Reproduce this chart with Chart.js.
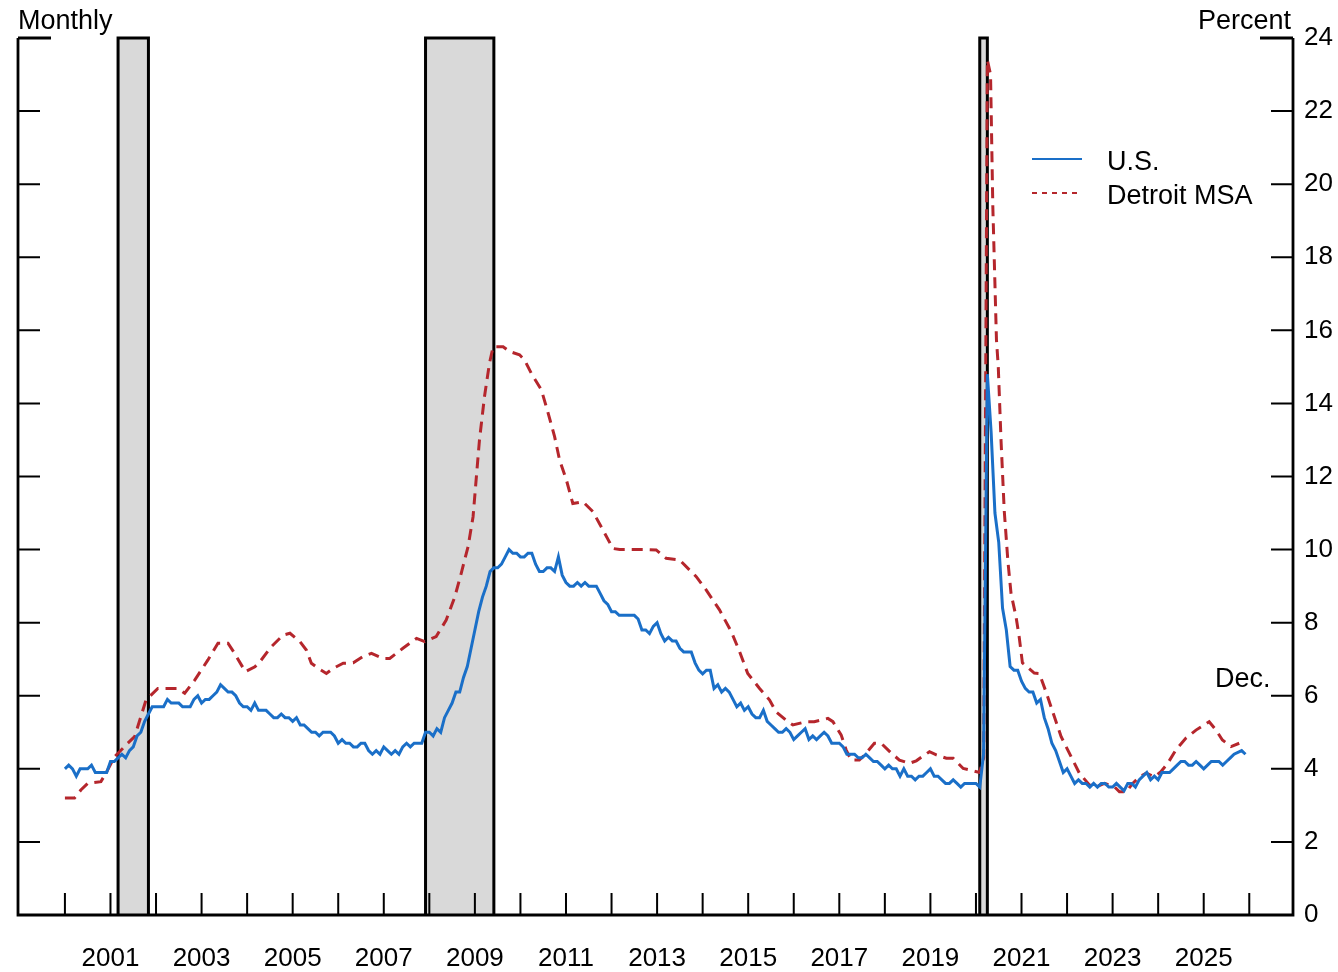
<!DOCTYPE html>
<html>
<head>
<meta charset="utf-8">
<script src="https://cdn.jsdelivr.net/npm/chart.js"></script>
<style>
html, body { margin: 0; padding: 0; background: #fff; }
#wrap { width: 1338px; height: 972px; }
</style>
</head>
<body>
<div id="wrap"><canvas id="chartUnemployment" width="1338" height="972"></canvas></div>
<script>
// US unemployment rate, monthly from Jan 2000 (Oct 2025 not published)
const usStart = 2000;
const usRates = [
  4.0,4.1,4.0,3.8,4.0,4.0,4.0,4.1,3.9,3.9,3.9,3.9,
  4.2,4.2,4.3,4.4,4.3,4.5,4.6,4.9,5.0,5.3,5.5,5.7,
  5.7,5.7,5.7,5.9,5.8,5.8,5.8,5.7,5.7,5.7,5.9,6.0,
  5.8,5.9,5.9,6.0,6.1,6.3,6.2,6.1,6.1,6.0,5.8,5.7,
  5.7,5.6,5.8,5.6,5.6,5.6,5.5,5.4,5.4,5.5,5.4,5.4,
  5.3,5.4,5.2,5.2,5.1,5.0,5.0,4.9,5.0,5.0,5.0,4.9,
  4.7,4.8,4.7,4.7,4.6,4.6,4.7,4.7,4.5,4.4,4.5,4.4,
  4.6,4.5,4.4,4.5,4.4,4.6,4.7,4.6,4.7,4.7,4.7,5.0,
  5.0,4.9,5.1,5.0,5.4,5.6,5.8,6.1,6.1,6.5,6.8,7.3,
  7.8,8.3,8.7,9.0,9.4,9.5,9.5,9.6,9.8,10.0,9.9,9.9,
  9.8,9.8,9.9,9.9,9.6,9.4,9.4,9.5,9.5,9.4,9.8,9.3,
  9.1,9.0,9.0,9.1,9.0,9.1,9.0,9.0,9.0,8.8,8.6,8.5,
  8.3,8.3,8.2,8.2,8.2,8.2,8.2,8.1,7.8,7.8,7.7,7.9,
  8.0,7.7,7.5,7.6,7.5,7.5,7.3,7.2,7.2,7.2,6.9,6.7,
  6.6,6.7,6.7,6.2,6.3,6.1,6.2,6.1,5.9,5.7,5.8,5.6,
  5.7,5.5,5.4,5.4,5.6,5.3,5.2,5.1,5.0,5.0,5.1,5.0,
  4.8,4.9,5.0,5.1,4.8,4.9,4.8,4.9,5.0,4.9,4.7,4.7,
  4.7,4.6,4.4,4.4,4.4,4.3,4.3,4.4,4.3,4.2,4.2,4.1,
  4.0,4.1,4.0,4.0,3.8,4.0,3.8,3.8,3.7,3.8,3.8,3.9,
  4.0,3.8,3.8,3.7,3.6,3.6,3.7,3.6,3.5,3.6,3.6,3.6,
  3.6,3.5,4.4,14.8,13.2,11.0,10.2,8.4,7.8,6.8,6.7,6.7,
  6.4,6.2,6.1,6.1,5.8,5.9,5.4,5.1,4.7,4.5,4.2,3.9,
  4.0,3.8,3.6,3.7,3.6,3.6,3.5,3.6,3.5,3.6,3.6,3.5,
  3.5,3.6,3.5,3.4,3.6,3.6,3.5,3.7,3.8,3.9,3.7,3.8,
  3.7,3.9,3.9,3.9,4.0,4.1,4.2,4.2,4.1,4.1,4.2,4.1,
  4.0,4.1,4.2,4.2,4.2,4.1,4.2,4.3,4.4,null,4.5,4.4
];

// Detroit MSA (decimal year, percent)
const detroitDates = [
  2000.00,2000.21,2000.35,2000.50,2000.79,2000.90,2001.09,2001.38,2001.53,2001.78,
  2002.04,2002.48,2002.63,2002.85,2003.14,2003.36,2003.58,2003.72,2003.96,2004.17,
  2004.28,2004.53,2004.79,2004.94,2005.16,2005.30,2005.41,2005.56,2005.74,2005.89,
  2006.11,2006.33,2006.54,2006.73,2006.98,2007.13,2007.42,2007.72,2007.90,2008.15,
  2008.37,2008.56,2008.70,2008.85,2008.96,2009.04,2009.10,2009.21,2009.32,2009.40,
  2009.62,2009.76,2009.98,2010.09,2010.24,2010.46,2010.60,2010.75,2010.86,2011.01,
  2011.15,2011.37,2011.59,2011.81,2012.03,2012.18,2012.69,2012.98,2013.20,2013.49,
  2013.86,2014.08,2014.37,2014.63,2014.81,2014.99,2015.25,2015.47,2015.61,2015.87,
  2015.98,2016.27,2016.45,2016.75,2016.86,2017.04,2017.15,2017.26,2017.44,2017.59,
  2017.77,2017.92,2018.14,2018.32,2018.54,2018.69,2018.98,2019.13,2019.35,2019.50,
  2019.72,2019.86,2020.08,2020.17,2020.25,2020.32,2020.37,2020.45,2020.49,2020.55,
  2020.62,2020.70,2020.77,2020.88,2020.95,2021.02,2021.28,2021.39,2021.54,2021.72,
  2021.87,2022.09,2022.27,2022.49,2022.64,2022.82,2023.04,2023.15,2023.30,2023.44,
  2023.59,2023.74,2023.92,2024.06,2024.21,2024.39,2024.61,2024.83,2025.12,2025.27,
  2025.41,2025.60,2025.78
];
const detroitRates = [
  3.2,3.2,3.42,3.6,3.65,3.88,4.33,4.7,4.88,5.88,
  6.2,6.2,6.07,6.43,6.98,7.44,7.44,7.17,6.66,6.79,
  6.93,7.34,7.66,7.71,7.48,7.25,6.89,6.75,6.61,6.75,
  6.89,6.9,7.07,7.16,7.02,7.02,7.3,7.57,7.48,7.62,
  8.07,8.71,9.35,10.08,10.9,12.1,12.99,14.18,15.1,15.55,
  15.55,15.42,15.33,15.19,14.82,14.37,13.77,13.09,12.45,11.9,
  11.26,11.31,11.04,10.54,10.03,10.0,10.0,9.99,9.76,9.72,
  9.26,8.89,8.35,7.75,7.21,6.61,6.2,5.88,5.56,5.29,
  5.2,5.29,5.29,5.38,5.29,4.93,4.52,4.24,4.24,4.43,
  4.7,4.7,4.43,4.24,4.15,4.22,4.47,4.38,4.29,4.29,
  4.01,3.97,3.9,4.3,23.4,23.0,19.4,15.74,15.0,13.0,
  11.08,9.7,8.8,8.16,7.6,6.9,6.62,6.61,6.1,5.43,
  4.88,4.33,3.88,3.56,3.51,3.6,3.51,3.37,3.37,3.6,
  3.78,3.88,3.78,3.92,4.15,4.52,4.84,5.06,5.29,5.06,
  4.79,4.61,4.7
];

// NBER recessions: start, end (decimal year)
const recessionStarts = [2001 + 2/12, 2007 + 11/12, 2020 + 1/12];
const recessionEnds = [2001 + 10/12, 2009 + 5/12, 2020 + 3/12];

const yearTicks = [];
for (let y = 2000; y <= 2026; y++) yearTicks.push(y);
const yearLabels = [2001,2003,2005,2007,2009,2011,2013,2015,2017,2019,2021,2023,2025];
const percentTicks = [0,2,4,6,8,10,12,14,16,18,20,22,24];

const fontFam = '"Liberation Sans", Arial, sans-serif';
const blue = '#1a6fc8';
const red = '#b5262c';

const usPoints = usRates.map(function (v, i) { return { x: usStart + i / 12, y: v }; });
const detroitPoints = detroitDates.map(function (d, i) { return { x: d, y: detroitRates[i] }; });

const framePlugin = {
  id: 'framePlugin',
  beforeDatasetsDraw: function (chart) {
    const ctx = chart.ctx, xs = chart.scales.x, area = chart.chartArea;
    ctx.save();
    for (let i = 0; i < recessionStarts.length; i++) {
      const x1 = xs.getPixelForValue(recessionStarts[i]);
      const x2 = xs.getPixelForValue(recessionEnds[i]);
      ctx.fillStyle = '#d9d9d9';
      ctx.fillRect(x1, area.top, x2 - x1, area.bottom - area.top);
      ctx.strokeStyle = '#000';
      ctx.lineWidth = 3;
      ctx.beginPath();
      ctx.moveTo(x1, area.bottom); ctx.lineTo(x1, area.top);
      ctx.lineTo(x2, area.top); ctx.lineTo(x2, area.bottom);
      ctx.stroke();
    }
    ctx.restore();
  },
  afterDraw: function (chart) {
    const ctx = chart.ctx, xs = chart.scales.x, ys = chart.scales.y, area = chart.chartArea;
    ctx.save();
    ctx.strokeStyle = '#000';
    ctx.lineWidth = 2.8;
    ctx.beginPath();
    ctx.moveTo(area.left, area.top); ctx.lineTo(area.left, area.bottom);
    ctx.lineTo(area.right, area.bottom); ctx.lineTo(area.right, area.top);
    ctx.stroke();

    // inward ticks
    ctx.lineWidth = 2;
    ctx.beginPath();
    percentTicks.forEach(function (v) {
      const py = ys.getPixelForValue(v);
      const len = v === 24 ? 33 : 22;
      ctx.moveTo(area.left, py); ctx.lineTo(area.left + len, py);
      ctx.moveTo(area.right, py); ctx.lineTo(area.right - len, py);
    });
    yearTicks.forEach(function (v) {
      const px = xs.getPixelForValue(v);
      ctx.moveTo(px, area.bottom); ctx.lineTo(px, area.bottom - 22);
    });
    ctx.stroke();
    ctx.lineWidth = 3;
    ctx.beginPath();
    ctx.moveTo(area.left, area.top); ctx.lineTo(area.left + 33, area.top);
    ctx.moveTo(area.right, area.top); ctx.lineTo(area.right - 33, area.top);
    ctx.stroke();

    // titles and notes
    ctx.fillStyle = '#000';
    ctx.font = '27px ' + fontFam;
    ctx.textBaseline = 'alphabetic';
    ctx.textAlign = 'left';
    ctx.fillText('Monthly', 18, 29);
    ctx.fillText('Dec.', 1215, 687);
    ctx.textAlign = 'right';
    ctx.fillText('Percent', 1291, 29);

    // legend
    ctx.textAlign = 'left';
    ctx.lineWidth = 2;
    ctx.strokeStyle = blue;
    ctx.beginPath(); ctx.moveTo(1032, 159); ctx.lineTo(1082, 159); ctx.stroke();
    ctx.strokeStyle = red;
    ctx.setLineDash([5, 5]);
    ctx.beginPath(); ctx.moveTo(1032, 193); ctx.lineTo(1082, 193); ctx.stroke();
    ctx.setLineDash([]);
    ctx.fillText('U.S.', 1107, 170);
    ctx.fillText('Detroit MSA', 1107, 204);
    ctx.restore();
  }
};

const dataUnemployment = {
  datasets: [{
    label: 'U.S.',
    data: usPoints,
    borderColor: blue,
    borderWidth: 3,
    pointRadius: 0,
    spanGaps: true,
    tension: 0
  }, {
    label: 'Detroit MSA',
    data: detroitPoints,
    borderColor: red,
    borderWidth: 3,
    borderDash: [11, 7],
    pointRadius: 0,
    tension: 0
  }]
};

const configUnemployment = {
  type: 'line',
  data: dataUnemployment,
  options: {
    responsive: false,
    animation: false,
    devicePixelRatio: 1,
    layout: { padding: { left: 18, top: 38, right: 0, bottom: 0 } },
    plugins: { legend: { display: false }, tooltip: { enabled: false } },
    scales: {
      x: {
        type: 'linear',
        min: 1998.97,
        max: 2026.96,
        grid: { display: false, drawTicks: false },
        border: { display: false },
        afterBuildTicks: function (s) { s.ticks = yearLabels.map(function (v) { return { value: v }; }); },
        afterFit: function (s) { s.height = 57; },
        ticks: {
          autoSkip: false,
          maxRotation: 0,
          padding: 28,
          color: '#000',
          font: { family: fontFam, size: 26 },
          callback: function (v) { return String(v); }
        }
      },
      y: {
        position: 'right',
        min: 0,
        max: 24,
        grid: { display: false, drawTicks: false },
        border: { display: false },
        afterBuildTicks: function (s) { s.ticks = percentTicks.map(function (v) { return { value: v }; }); },
        afterFit: function (s) { s.width = 45; },
        ticks: {
          padding: 11,
          color: '#000',
          font: { family: fontFam, size: 26 },
          callback: function (v) { return String(v); }
        }
      }
    }
  },
  plugins: [framePlugin]
};

var chartUnemployment = new Chart(
  document.getElementById('chartUnemployment'),
  configUnemployment
);
</script>
</body>
</html>
